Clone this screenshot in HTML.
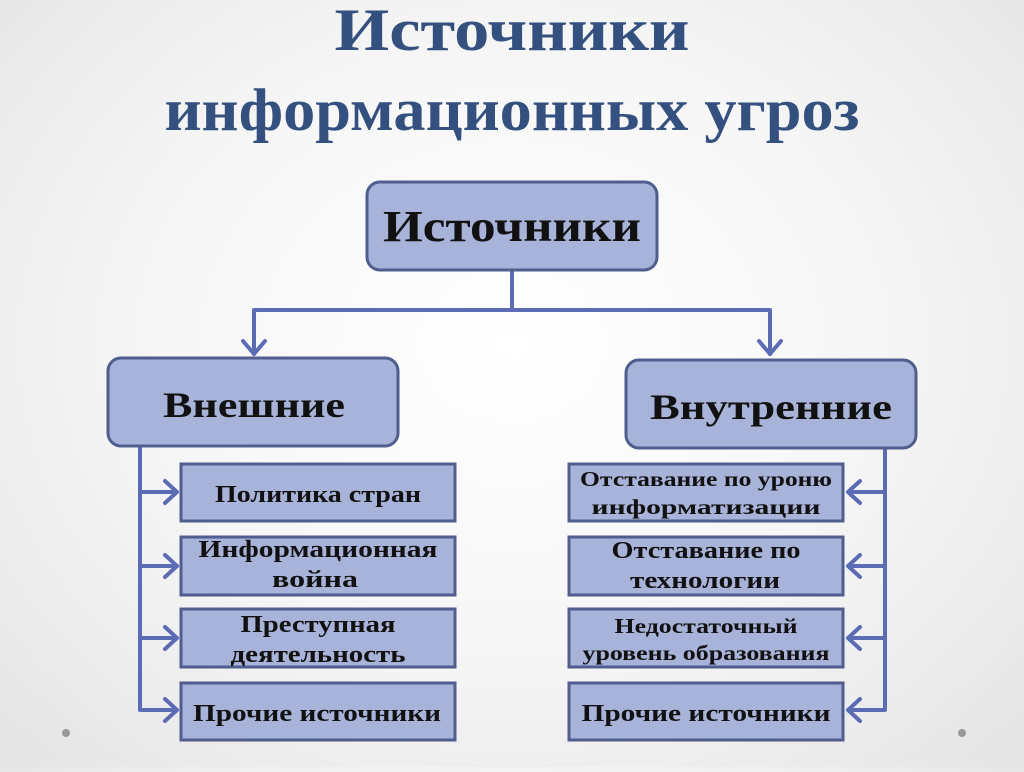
<!DOCTYPE html>
<html><head><meta charset="utf-8"><style>
html,body{margin:0;padding:0;}
body{width:1024px;height:767px;overflow:hidden;background:radial-gradient(ellipse at 50% 45%,#ffffff 0%,#f6f6f6 50%,#e4e4e4 100%);}
svg text{font-family:"Liberation Serif","DejaVu Serif",serif;font-weight:bold;text-anchor:middle;}
</style></head><body>
<svg width="1024" height="767" viewBox="0 0 1024 767" xmlns="http://www.w3.org/2000/svg">
<text x="512" y="50" font-size="60" fill="#34507f" textLength="355" lengthAdjust="spacingAndGlyphs">Источники</text>
<text x="512" y="130" font-size="60" fill="#34507f" textLength="695" lengthAdjust="spacingAndGlyphs">информационных угроз</text>
<g fill="none" stroke="#5b6cb5" stroke-width="4" stroke-linecap="round" stroke-linejoin="round">
<path d="M512 270 V310 M254 310 H770 M254 310 V354 M770 310 V354"/>
<path d="M243 341 L254 354 L265 341 M759 341 L770 354 L781 341"/>
<path d="M140 446 V710 H176 M140 492 H176 M140 566 H176 M140 638 H176"/>
<path d="M165 481 L177 492 L165 503 M165 555 L177 566 L165 577 M165 627 L177 638 L165 649 M165 699 L177 710 L165 721"/>
<path d="M885 448 V710 H849 M885 492 H849 M885 566 H849 M885 638 H849"/>
<path d="M860 481 L848 492 L860 503 M860 555 L848 566 L860 577 M860 627 L848 638 L860 649 M860 699 L848 710 L860 721"/>
</g>
<g fill="#a7b3d8" stroke="#4f5e8e" stroke-width="3">
<rect x="367" y="182" width="290" height="88" rx="13"/>
<rect x="108" y="358" width="290" height="88" rx="13"/>
<rect x="626" y="360" width="290" height="88" rx="13"/>
<rect x="181" y="464" width="274" height="57"/>
<rect x="181" y="537" width="274" height="58"/>
<rect x="181" y="609" width="274" height="58"/>
<rect x="181" y="683" width="274" height="57"/>
<rect x="569" y="464" width="274" height="57"/>
<rect x="569" y="537" width="274" height="58"/>
<rect x="569" y="609" width="274" height="58"/>
<rect x="569" y="683" width="274" height="57"/>
</g>
<g fill="#111">
<text x="512" y="241" font-size="44" textLength="258" lengthAdjust="spacingAndGlyphs">Источники</text>
<text x="254" y="417" font-size="36" textLength="182" lengthAdjust="spacingAndGlyphs">Внешние</text>
<text x="771" y="419" font-size="36" textLength="242" lengthAdjust="spacingAndGlyphs">Внутренние</text>
<g font-size="24">
<text x="318" y="502" textLength="206" lengthAdjust="spacingAndGlyphs">Политика стран</text>
<text x="318" y="557" textLength="239" lengthAdjust="spacingAndGlyphs">Информационная</text>
<text x="315" y="587" textLength="86" lengthAdjust="spacingAndGlyphs">война</text>
<text x="318" y="632" textLength="155" lengthAdjust="spacingAndGlyphs">Преступная</text>
<text x="318" y="662" textLength="175" lengthAdjust="spacingAndGlyphs">деятельность</text>
<text x="317" y="721" textLength="248" lengthAdjust="spacingAndGlyphs">Прочие источники</text>
<text x="706" y="558" textLength="189" lengthAdjust="spacingAndGlyphs">Отставание по</text>
<text x="705" y="588" textLength="150" lengthAdjust="spacingAndGlyphs">технологии</text>
<text x="706" y="721" textLength="249" lengthAdjust="spacingAndGlyphs">Прочие источники</text>
</g>
<g font-size="21">
<text x="706" y="486" textLength="252" lengthAdjust="spacingAndGlyphs">Отставание по уроню</text>
<text x="706" y="514" textLength="229" lengthAdjust="spacingAndGlyphs">информатизации</text>
<text x="706" y="633" textLength="183" lengthAdjust="spacingAndGlyphs">Недостаточный</text>
<text x="706" y="660" textLength="247" lengthAdjust="spacingAndGlyphs">уровень образования</text>
</g>
</g>
<circle cx="66" cy="733" r="4" fill="#999"/>
<circle cx="962" cy="733" r="4" fill="#999"/>
</svg>
</body></html>
